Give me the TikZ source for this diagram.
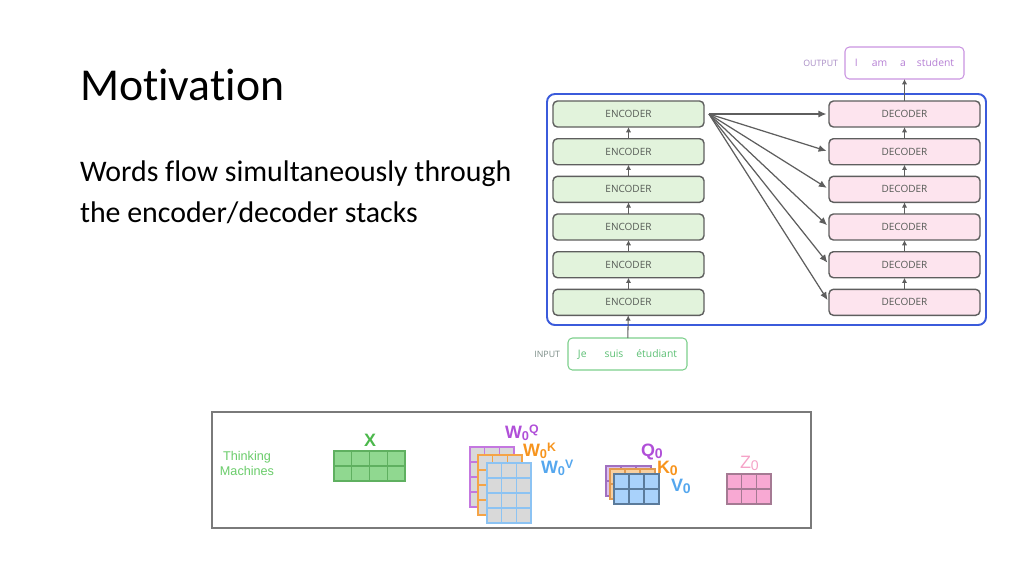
\documentclass[tikz,border=0pt]{standalone}
\usepackage{fontspec}
\setmainfont{Carlito}[RawFeature=-liga]
\newfontfamily\osans{Open Sans}
\newfontfamily\hsans{Liberation Sans}
\usepackage{xcolor}
\usetikzlibrary{arrows.meta,positioning,calc}
\definecolor{encfill}{HTML}{E2F3DC}
\definecolor{decfill}{HTML}{FDE4EE}
\definecolor{boxgray}{HTML}{5E5E5E}
\definecolor{txtgray}{HTML}{555A55}
\definecolor{frameblue}{HTML}{3B5BDB}
\definecolor{outtext}{HTML}{B57FD4}
\definecolor{outborder}{HTML}{C994E0}
\definecolor{outlabel}{HTML}{A78BC4}
\definecolor{intext}{HTML}{5CBF74}
\definecolor{inborder}{HTML}{7CCF8C}
\definecolor{inlabel}{HTML}{7A8C86}
\definecolor{stripgray}{HTML}{7A7A7A}
\definecolor{thinkgreen}{HTML}{6ACC6A}
\definecolor{xfill}{HTML}{90D890}
\definecolor{xdraw}{HTML}{5FB060}
\definecolor{xlab}{HTML}{4CB84C}
\definecolor{wfill}{HTML}{D9D9D9}
\definecolor{wpurp}{HTML}{C477E0}
\definecolor{worng}{HTML}{F5A447}
\definecolor{wblue}{HTML}{8CC3F3}
\definecolor{tpurp}{HTML}{B04FD8}
\definecolor{torng}{HTML}{F7941D}
\definecolor{tblue}{HTML}{55A7EE}
\definecolor{qfill}{HTML}{DCC0EE}
\definecolor{qdraw}{HTML}{A070C0}
\definecolor{kfill}{HTML}{F8D0A0}
\definecolor{kdraw}{HTML}{E09A50}
\definecolor{vfill}{HTML}{A9D2FB}
\definecolor{vdraw}{HTML}{5B7B9B}
\definecolor{zfill}{HTML}{F8A9D3}
\definecolor{zdraw}{HTML}{A57A93}
\definecolor{zlab}{HTML}{F5A3C7}
\begin{document}
\begin{tikzpicture}[x=0.02cm,y=-0.02cm,
  every node/.style={inner sep=0pt,outer sep=0pt},
  enc/.style={draw=boxgray,line width=0.8pt,rounded corners=2.5pt,fill=encfill,minimum width=3.02cm,minimum height=0.52cm,font=\osans\fontsize{5.7}{6}\selectfont,text=txtgray},
  dec/.style={enc,fill=decfill},
  up/.style={draw=boxgray,line width=0.6pt,-{Latex[length=3pt,width=3pt]}},
  fan/.style={draw=boxgray,line width=0.7pt,-{Latex[length=4.5pt,width=4pt]},shorten >=1.5pt},
  wordbox/.style={draw,line width=0.6pt,rounded corners=2.5pt,minimum width=2.38cm,minimum height=0.64cm,font=\osans\fontsize{5.9}{7}\selectfont},
  lbl/.style={font=\osans\fontsize{5}{6}\selectfont},
  mlab/.style={font=\hsans\bfseries\fontsize{10.2}{12}\selectfont}]
 \useasboundingbox (0,0) rectangle (1024,576);
 \node[anchor=base west,font=\fontsize{26}{30}\selectfont] (title) at (80,100) {Motivation};
 \node[anchor=base west,font=\fontsize{17}{20}\selectfont] (l1) at (80,181) {Words flow simultaneously through};
 \node[anchor=base west,font=\fontsize{17}{20}\selectfont] (l2) at (80,222) {the encoder/decoder stacks};
 \draw[frameblue,line width=1.1pt,rounded corners=4.5pt] (547,94) rectangle (986,325);
 \node[enc] (e6) at (628.5,114) {ENCODER};
 \node[enc] (e5) at (628.5,151.7) {ENCODER};
 \node[enc] (e4) at (628.5,189.3) {ENCODER};
 \node[enc] (e3) at (628.5,227) {ENCODER};
 \node[enc] (e2) at (628.5,264.7) {ENCODER};
 \node[enc] (e1) at (628.5,302.3) {ENCODER};
 \node[dec] (d6) at (904.5,114) {DECODER};
 \node[dec] (d5) at (904.5,151.7) {DECODER};
 \node[dec] (d4) at (904.5,189.3) {DECODER};
 \node[dec] (d3) at (904.5,227) {DECODER};
 \node[dec] (d2) at (904.5,264.7) {DECODER};
 \node[dec] (d1) at (904.5,302.3) {DECODER};
 \node[wordbox,draw=outborder,text=outtext] (out) at (904.5,63) {I\hspace{0.28cm}am\hspace{0.26cm}a\hspace{0.22cm}student};
 \node[lbl,text=outlabel,left=0.14cm of out] (outl) {OUTPUT};
 \node[wordbox,draw=inborder,text=intext] (in) at (627.5,354) {Je\hspace{0.36cm}suis\hspace{0.26cm}étudiant};
 \node[lbl,text=inlabel,left=0.16cm of in] (inl) {INPUT};
 \foreach \a/\b in {in/e1,e1/e2,e2/e3,e3/e4,e4/e5,e5/e6,d1/d2,d2/d3,d3/d4,d4/d5,d5/d6,d6/out}
   \draw[up] (\a) -- (\b);
 \coordinate[right=0.1cm of e6] (src);
 \foreach \d in {d1,d2,d3,d4,d5,d6}
   \draw[fan] (src) -- (\d.west);
 % bottom strip
 \draw[stripgray,line width=0.7pt] (212,412) rectangle (811,528);
 \node[font=\hsans\fontsize{7.2}{8.5}\selectfont,align=center,text=thinkgreen] (tm) at (247,463) {Thinking\\Machines};
 \foreach \x/\y/\c/\r/\w/\f/\d in {334/451/4/2/17.75/xfill/xdraw,470/447/3/4/14.67/wfill/wpurp,478/455/3/4/14.67/wfill/worng,487/463/3/4/14.67/wfill/wblue,606/466/3/2/15/qfill/qdraw,610/469/3/2/15/kfill/kdraw,614/474/3/2/15/vfill/vdraw,727/474/3/2/14.67/zfill/zdraw}
   \foreach \i in {1,...,\c}
     \foreach \j in {1,...,\r}
       \draw[fill=\f,draw=\d,line width=0.6pt] ({\x+(\i-1)*\w},{\y+(\j-1)*15}) rectangle ++(\w,15);
 \node[mlab,text=xlab] (xl) at (370,440) {X};
 \node[mlab,text=tpurp,anchor=base west] (wq) at (505,438) {W\raisebox{-1.2pt}[0pt][0pt]{\fontsize{7.3}{8}\selectfont 0}\raisebox{2.6pt}[0pt][0pt]{\fontsize{7}{8}\selectfont Q}};
 \node[mlab,text=torng,anchor=base west] (wk) at (523,456) {W\raisebox{-1.2pt}[0pt][0pt]{\fontsize{7.3}{8}\selectfont 0}\raisebox{2.6pt}[0pt][0pt]{\fontsize{7}{8}\selectfont K}};
 \node[mlab,text=tblue,anchor=base west] (wv) at (541,473.5) {W\raisebox{-1.2pt}[0pt][0pt]{\fontsize{7.3}{8}\selectfont 0}\raisebox{2.6pt}[0pt][0pt]{\fontsize{7}{8}\selectfont V}};
 \node[mlab,text=tpurp,anchor=base west] (q0) at (641,456) {Q\raisebox{-1.2pt}[0pt][0pt]{\fontsize{8}{8}\selectfont 0}};
 \node[mlab,text=torng,anchor=base west] (k0) at (657,473) {K\raisebox{-1.2pt}[0pt][0pt]{\fontsize{8}{8}\selectfont 0}};
 \node[mlab,text=tblue,anchor=base west] (v0) at (671,491) {V\raisebox{-1.2pt}[0pt][0pt]{\fontsize{8}{8}\selectfont 0}};
 \node[font=\hsans\fontsize{10.2}{12}\selectfont,text=zlab,anchor=base west] (z0) at (740,468) {Z\raisebox{-1.2pt}[0pt][0pt]{\fontsize{8}{8}\selectfont 0}};
\end{tikzpicture}
\end{document}
